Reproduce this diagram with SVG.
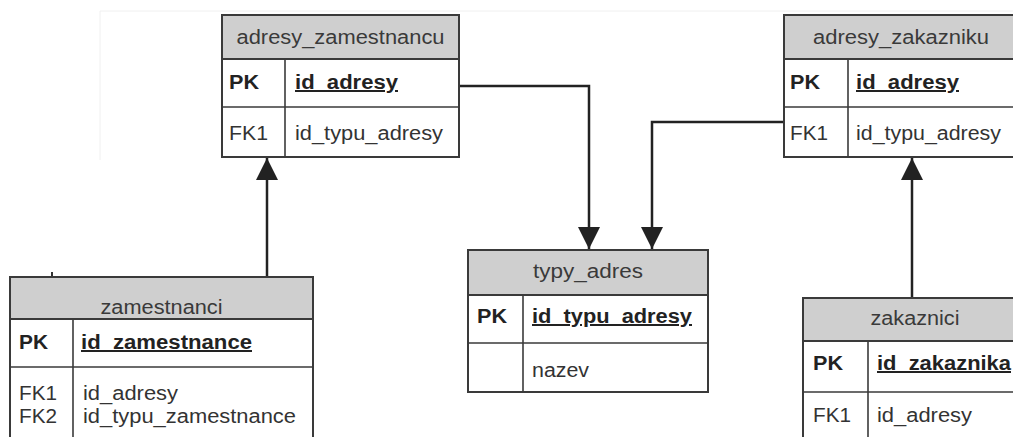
<svg xmlns="http://www.w3.org/2000/svg" width="1013" height="437" viewBox="0 0 1013 437">
  <style>
    .box{fill:#ffffff;stroke:#3a3a3a;stroke-width:2}
    .hdr{fill:#cfcfcf;stroke:#3a3a3a;stroke-width:2}
    .sep{stroke:#3a3a3a;stroke-width:1.6;fill:none}
    .t{font-family:"Liberation Sans",Arial,sans-serif;font-size:20px;fill:#333333}
    .h{text-anchor:middle;fill:#3a3a3a}
    .b{font-weight:bold;fill:#222222}
    .u{text-decoration:underline}
    .conn{fill:none;stroke:#222222;stroke-width:2.5}
    .frame{fill:none;stroke:#f0f0f0;stroke-width:1}
  </style>
  <defs>
    <marker id="arrow" markerUnits="userSpaceOnUse" markerWidth="22" markerHeight="22" refX="22" refY="11" orient="auto">
      <path d="M0,0 L22,11 L0,22 Z" fill="#222222"/>
    </marker>
  </defs>

  <rect width="1013" height="437" fill="#ffffff"/>
  <!-- faint page frame -->
  <path class="frame" d="M100,160 V11 H1013"/>
  <rect x="51" y="272" width="2" height="4" fill="#333333"/>

  <!-- connectors -->
  <g id="connectors">
    <path class="conn" d="M459,86 H589 V249" marker-end="url(#arrow)"/>
    <path class="conn" d="M784,122 H652 V249" marker-end="url(#arrow)"/>
    <path class="conn" d="M912,298 V158" marker-end="url(#arrow)"/>
    <path class="conn" d="M267,277 V158" marker-end="url(#arrow)"/>
  </g>

  <!-- adresy_zamestnancu -->
  <g id="adresy_zamestnancu">
    <rect class="box" x="222" y="15" width="237" height="142"/>
    <rect class="hdr" x="222" y="15" width="237" height="44"/>
    <line class="sep" x1="222" y1="107" x2="459" y2="107"/>
    <line class="sep" x1="285" y1="59" x2="285" y2="157"/>
    <text class="t h" x="340.5" y="44" textLength="208" lengthAdjust="spacingAndGlyphs">adresy_zamestnancu</text>
    <text class="t b" x="229" y="89" textLength="30" lengthAdjust="spacingAndGlyphs">PK</text>
    <text class="t b u" x="295" y="89" textLength="103" lengthAdjust="spacingAndGlyphs">id_adresy</text>
    <text class="t" x="229" y="140" textLength="39" lengthAdjust="spacingAndGlyphs">FK1</text>
    <text class="t" x="295" y="140" textLength="148" lengthAdjust="spacingAndGlyphs">id_typu_adresy</text>
  </g>

  <!-- adresy_zakazniku -->
  <g id="adresy_zakazniku">
    <rect class="box" x="784" y="15" width="236" height="142"/>
    <rect class="hdr" x="784" y="15" width="236" height="44"/>
    <line class="sep" x1="784" y1="107" x2="1020" y2="107"/>
    <line class="sep" x1="848" y1="59" x2="848" y2="157"/>
    <text class="t h" x="901" y="44" textLength="176" lengthAdjust="spacingAndGlyphs">adresy_zakazniku</text>
    <text class="t b" x="790" y="89" textLength="30" lengthAdjust="spacingAndGlyphs">PK</text>
    <text class="t b u" x="856" y="89" textLength="103" lengthAdjust="spacingAndGlyphs">id_adresy</text>
    <text class="t" x="790" y="140" textLength="38" lengthAdjust="spacingAndGlyphs">FK1</text>
    <text class="t" x="856" y="140" textLength="145" lengthAdjust="spacingAndGlyphs">id_typu_adresy</text>
  </g>

  <!-- typy_adres -->
  <g id="typy_adres">
    <rect class="box" x="468" y="250" width="240" height="142"/>
    <rect class="hdr" x="468" y="250" width="240" height="45"/>
    <line class="sep" x1="468" y1="343" x2="708" y2="343"/>
    <line class="sep" x1="523" y1="295" x2="523" y2="392"/>
    <text class="t h" x="588" y="278" textLength="110" lengthAdjust="spacingAndGlyphs">typy_adres</text>
    <text class="t b" x="477" y="323" textLength="30" lengthAdjust="spacingAndGlyphs">PK</text>
    <text class="t b u" x="532" y="323" textLength="160" lengthAdjust="spacingAndGlyphs">id_typu_adresy</text>
    <text class="t" x="532" y="377" textLength="57" lengthAdjust="spacingAndGlyphs">nazev</text>
  </g>

  <!-- zamestnanci -->
  <g id="zamestnanci">
    <rect class="box" x="10" y="277" width="303" height="170"/>
    <rect class="hdr" x="10" y="277" width="303" height="42"/>
    <line class="sep" x1="10" y1="367" x2="313" y2="367"/>
    <line class="sep" x1="73" y1="319" x2="73" y2="447"/>
    <text class="t h" x="161.5" y="314" textLength="122" lengthAdjust="spacingAndGlyphs">zamestnanci</text>
    <text class="t b" x="19" y="349" textLength="29" lengthAdjust="spacingAndGlyphs">PK</text>
    <text class="t b u" x="81" y="349" textLength="171" lengthAdjust="spacingAndGlyphs">id_zamestnance</text>
    <text class="t" x="19" y="400" textLength="38" lengthAdjust="spacingAndGlyphs">FK1</text>
    <text class="t" x="83" y="400" textLength="95" lengthAdjust="spacingAndGlyphs">id_adresy</text>
    <text class="t" x="19" y="423" textLength="38" lengthAdjust="spacingAndGlyphs">FK2</text>
    <text class="t" x="83" y="423" textLength="213" lengthAdjust="spacingAndGlyphs">id_typu_zamestnance</text>
  </g>

  <!-- zakaznici -->
  <g id="zakaznici">
    <rect class="box" x="803" y="298" width="224" height="150"/>
    <rect class="hdr" x="803" y="298" width="224" height="43"/>
    <line class="sep" x1="803" y1="392" x2="1027" y2="392"/>
    <line class="sep" x1="868" y1="341" x2="868" y2="448"/>
    <text class="t h" x="915" y="325" textLength="89" lengthAdjust="spacingAndGlyphs">zakaznici</text>
    <text class="t b" x="813" y="370" textLength="30" lengthAdjust="spacingAndGlyphs">PK</text>
    <text class="t b u" x="877" y="370" textLength="134" lengthAdjust="spacingAndGlyphs">id_zakaznika</text>
    <text class="t" x="813" y="422" textLength="38" lengthAdjust="spacingAndGlyphs">FK1</text>
    <text class="t" x="877" y="422" textLength="95" lengthAdjust="spacingAndGlyphs">id_adresy</text>
  </g>
</svg>
